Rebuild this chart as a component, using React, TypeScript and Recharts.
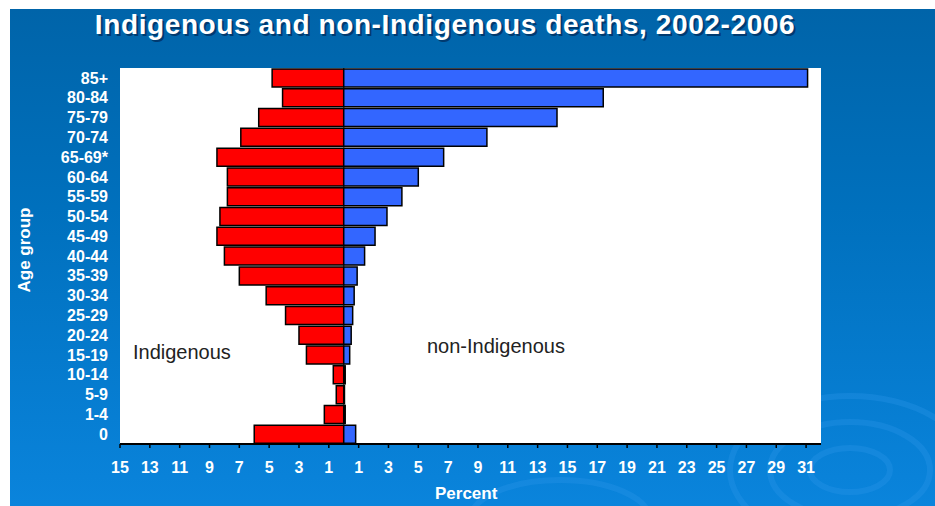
import React from 'react';
import {
  BarChart,
  Bar,
  XAxis,
  YAxis,
  CartesianGrid,
} from 'recharts';

const ageGroups = [
  '85+', '80-84', '75-79', '70-74', '65-69*', '60-64', '55-59', '50-54', '45-49', '40-44',
  '35-39', '30-34', '25-29', '20-24', '15-19', '10-14', '5-9', '1-4', '0',
];

// percent of deaths in each age group
const indigenous = [
  4.8, 4.1, 5.7, 6.9, 8.5, 7.8, 7.8, 8.3, 8.5, 8.0,
  7.0, 5.2, 3.9, 3.0, 2.5, 0.7, 0.5, 1.3, 6.0,
];
const nonIndigenous = [
  31.1, 17.4, 14.3, 9.6, 6.7, 5.0, 3.9, 2.9, 2.1, 1.4,
  0.9, 0.7, 0.6, 0.5, 0.4, 0.1, 0.05, 0.1, 0.8,
];

const xTicks = [-15, -13, -11, -9, -7, -5, -3, -1, 1, 3, 5, 7, 9, 11, 13, 15, 17, 19, 21, 23, 25, 27, 29, 31];

const data = ageGroups.map((age, i) => ({
  age,
  indigenous: -indigenous[i],
  nonIndigenous: nonIndigenous[i],
}));

const W = 935;
const H = 506;

const labelFont = 'Arial, "Liberation Sans", sans-serif';

export default function App() {
  return (
    <div style={{ position: 'fixed', left: 0, top: 0, width: W, height: H, background: '#fff', overflow: 'hidden' }}>
      <div
        style={{
          position: 'absolute',
          left: 10,
          top: 9,
          width: W - 10,
          height: H - 9,
          background: 'linear-gradient(180deg, #0064a9 0%, #0070bd 40%, #0a84dc 100%)',
        }}
      />
      <svg width={W} height={H} style={{ position: 'absolute', left: 0, top: 0 }}>
        <g fill="none" stroke="#2c95e8" strokeOpacity={0.35} strokeWidth={6}>
          <ellipse cx={850} cy={470} rx={40} ry={22} />
          <ellipse cx={850} cy={470} rx={80} ry={48} />
          <ellipse cx={850} cy={470} rx={120} ry={74} />
          <ellipse cx={560} cy={520} rx={90} ry={40} />
        </g>
      </svg>
      <div
        style={{
          position: 'absolute',
          left: 0,
          top: 9,
          width: 890,
          textAlign: 'center',
          fontFamily: labelFont,
          fontWeight: 'bold',
          fontSize: 28,
          letterSpacing: 0.6,
          color: '#fff',
          textShadow: '2px 2px 0 #003a70',
          whiteSpace: 'nowrap',
        }}
      >
        Indigenous and non-Indigenous deaths, 2002-2006
      </div>
      <div style={{ position: 'absolute', left: 0, top: 0 }}>
        <BarChart
          width={W}
          height={H}
          data={data}
          layout="vertical"
          stackOffset="sign"
          barCategoryGap={1}
          margin={{ top: 68, right: 114, bottom: 32, left: 10 }}
        >
          <CartesianGrid horizontal={false} vertical={false} fill="#ffffff" fillOpacity={1} />
          <XAxis
            type="number"
            domain={[-15, 32]}
            ticks={xTicks}
            interval={0}
            allowDataOverflow
            tickFormatter={(v: number) => String(Math.abs(v))}
            axisLine={{ stroke: '#000', strokeWidth: 2 }}
            tickLine={{ stroke: '#000', strokeWidth: 1.5 }}
            tickSize={4}
            tickMargin={14}
            height={30}
            tick={{ fill: '#fff', fontSize: 16, fontWeight: 'bold', fontFamily: labelFont }}
          />
          <YAxis
            type="category"
            dataKey="age"
            width={110}
            axisLine={false}
            tickLine={false}
            tickSize={0}
            tickMargin={12}
            interval={0}
            tick={{ fill: '#fff', fontSize: 16, fontWeight: 'bold', fontFamily: labelFont }}
          />
          <Bar dataKey="indigenous" stackId="a" fill="#ff0000" stroke="#000" strokeWidth={1.5} isAnimationActive={false} />
          <Bar dataKey="nonIndigenous" stackId="a" fill="#3366ff" stroke="#000" strokeWidth={1.5} isAnimationActive={false} />
        </BarChart>
      </div>
      <div
        style={{
          position: 'absolute',
          left: 133,
          top: 341,
          fontFamily: labelFont,
          fontSize: 20,
          color: '#222',
        }}
      >
        Indigenous
      </div>
      <div
        style={{
          position: 'absolute',
          left: 427,
          top: 335,
          fontFamily: labelFont,
          fontSize: 20,
          color: '#222',
        }}
      >
        non-Indigenous
      </div>
      <div
        style={{
          position: 'absolute',
          left: 435,
          top: 484,
          fontFamily: labelFont,
          fontWeight: 'bold',
          fontSize: 17,
          color: '#fff',
        }}
      >
        Percent
      </div>
      <div
        style={{
          position: 'absolute',
          left: 25,
          top: 250,
          transform: 'translate(-50%, -50%) rotate(-90deg)',
          fontFamily: labelFont,
          fontWeight: 'bold',
          fontSize: 17,
          color: '#fff',
          whiteSpace: 'nowrap',
        }}
      >
        Age group
      </div>
    </div>
  );
}
